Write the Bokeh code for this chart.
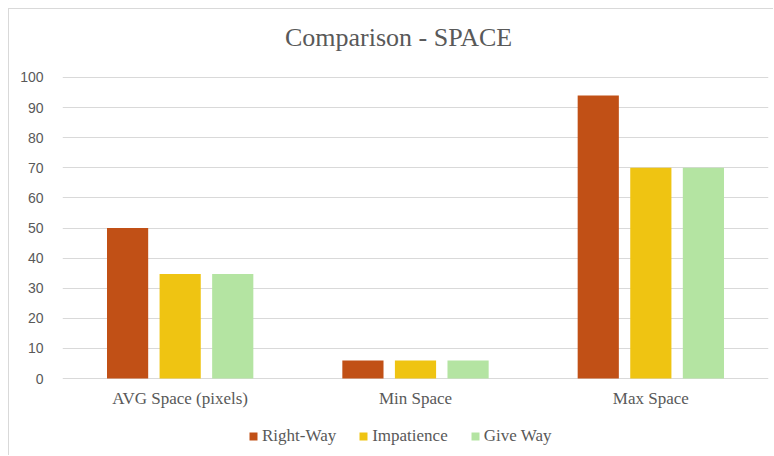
from bokeh.plotting import figure
from bokeh.models import (ColumnDataSource, FactorRange, Range1d, Legend,
                          LegendItem, FixedTicker)
from bokeh.core.properties import value
from bokeh.transform import dodge
from bokeh.embed import file_html
from bokeh.resources import INLINE

# --- data -------------------------------------------------------------
title_text = "Comparison - SPACE"
categories = ["AVG Space (pixels)", "Min Space", "Max Space"]
series_names = ["Right-Way", "Impatience", "Give Way"]
right_way = [50, 6, 94]
impatience = [34.7, 6, 70]
give_way = [34.7, 6, 70]
y_ticks = [0, 10, 20, 30, 40, 50, 60, 70, 80, 90, 100]

colors = ["#C15016", "#EFC412", "#B4E4A2"]
TEXT = "#595959"
GRID = "#d9d9d9"
SERIF = "Liberation Serif"
SANS = "Liberation Sans"

source = ColumnDataSource(dict(cat=categories, right_way=right_way,
                               impatience=impatience, give_way=give_way))

# the frame spans the full height so the title, category names and the
# legend all sit inside it
p = figure(
    x_range=FactorRange(factors=categories, range_padding=0),
    y_range=Range1d(-25.91, 122.59),
    width=765, height=447,
    output_backend="svg", toolbar_location=None,
    min_border_left=53, min_border_right=6,
    min_border_top=0, min_border_bottom=0,
)
p.styles = {"margin-left": "8px", "margin-top": "8px",
            "border-left": f"1px solid {GRID}", "border-top": f"1px solid {GRID}"}

# grouped bars
offsets = [-0.2234, 0.0, 0.2234]
columns = ["right_way", "impatience", "give_way"]
renderers = []
for col, off, color in zip(columns, offsets, colors):
    r = p.vbar(x=dodge("cat", off, range=p.x_range), top=col, width=0.175,
               source=source, fill_color=color, line_color=None)
    renderers.append(r)

# category names under the baseline
p.text(x="cat", y=-6.7, text="cat", source=source,
       text_font=value(SERIF), text_font_size="17px", text_color=TEXT,
       text_align="center", text_baseline="middle")

# chart title, centred over the whole chart area
p.text(x=[1.428], y=[113.3], text=[title_text],
       text_font=value(SERIF), text_font_size="26px", text_color=TEXT,
       text_align="center", text_baseline="middle")

# axes and grid
p.outline_line_color = None
p.xgrid.grid_line_color = None
p.ygrid.grid_line_color = GRID
p.ygrid.grid_line_width = 1
p.xaxis.visible = False

p.yaxis.ticker = FixedTicker(ticks=y_ticks)
p.yaxis.axis_line_color = None
p.yaxis.major_tick_line_color = None
p.yaxis.minor_tick_line_color = None
p.yaxis.major_label_standoff = 13
p.yaxis.major_label_text_font = SANS
p.yaxis.major_label_text_font_size = "14px"
p.yaxis.major_label_text_color = TEXT

# legend at the foot of the chart
legend = Legend(
    items=[LegendItem(label=n, renderers=[r]) for n, r in zip(series_names, renderers)],
    orientation="horizontal", location=(186, 10),
    glyph_width=10, glyph_height=10, label_standoff=4, spacing=22,
    border_line_color=None, background_fill_alpha=0,
    label_text_font=SERIF, label_text_font_size="17px", label_text_color=TEXT,
    padding=0, margin=0,
)
p.add_layout(legend)

open("out.html", "w").write(file_html(p, INLINE))
